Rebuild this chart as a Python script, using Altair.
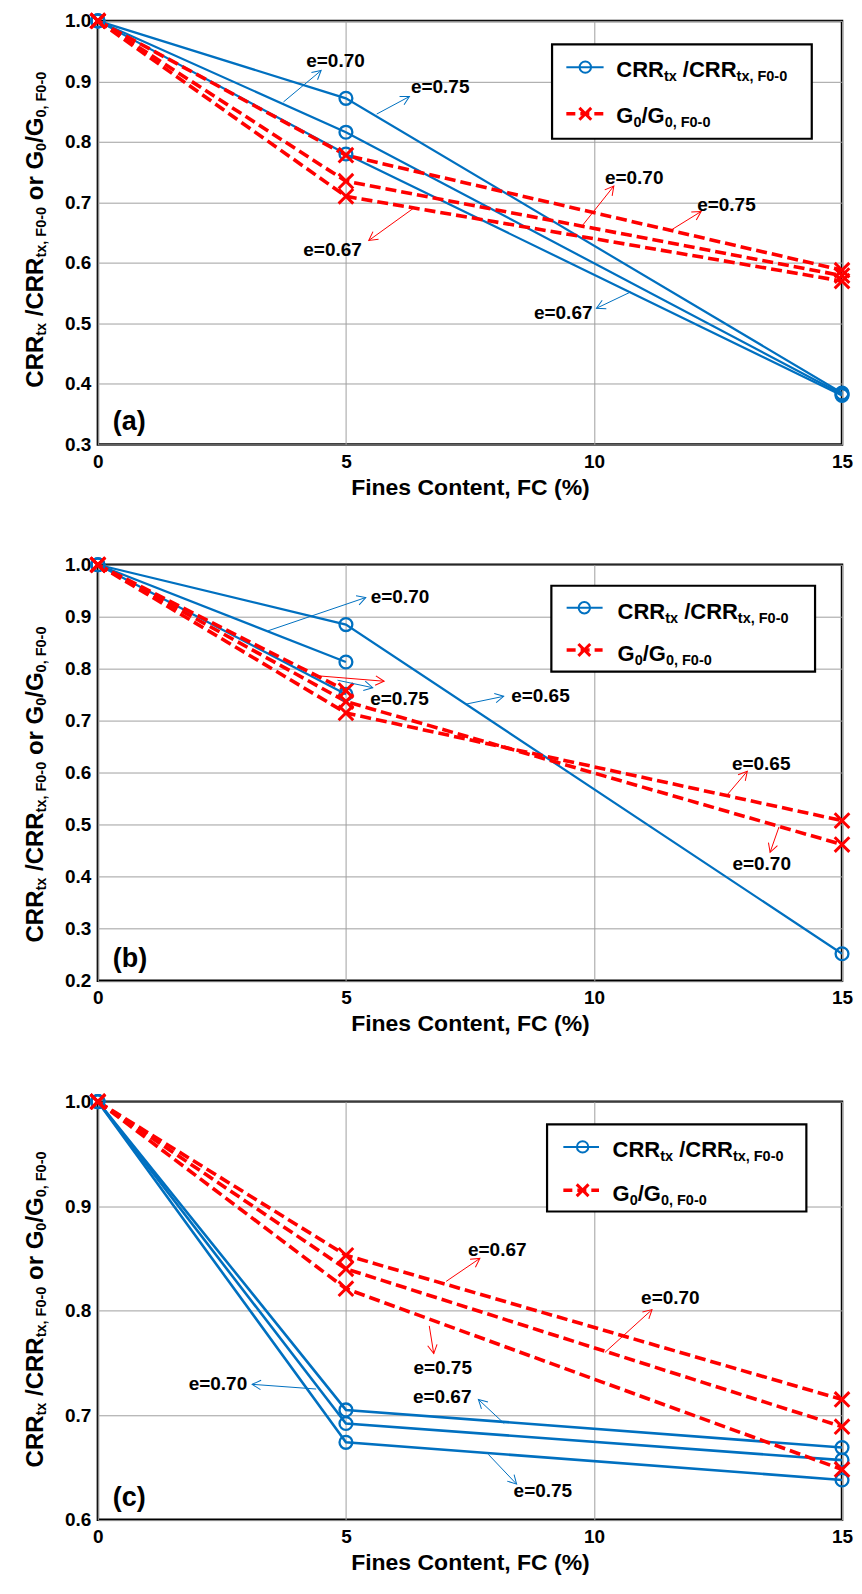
import math
import altair as alt
import pandas as pd

# ---------------- data ----------------
FC = [0, 5, 15]

# Panel (a)
a_crr_e = ["0.75", "0.70", "0.67"]
a_crr = [[1.0, 0.872, 0.385], [1.0, 0.816, 0.383], [1.0, 0.780, 0.381]]
a_g0_e = ["0.75", "0.70", "0.67"]
a_g0 = [[1.0, 0.778, 0.588], [1.0, 0.735, 0.579], [1.0, 0.710, 0.570]]
a_yticks = [0.3, 0.4, 0.5, 0.6, 0.7, 0.8, 0.9, 1.0]

# Panel (b)
b_crr_e = ["0.65", "0.70", "0.75"]
b_crr = [[1.0, 0.885, 0.252], [1.0, 0.813], [1.0, 0.751]]
b_g0_e = ["0.65", "0.70", "0.75"]
b_g0 = [[1.0, 0.715, 0.508], [1.0, 0.737, 0.462], [1.0, 0.758]]
b_yticks = [0.2, 0.3, 0.4, 0.5, 0.6, 0.7, 0.8, 0.9, 1.0]

# Panel (c)
c_crr_e = ["0.67", "0.70", "0.75"]
c_crr = [[1.0, 0.705, 0.669], [1.0, 0.692, 0.657], [1.0, 0.674, 0.638]]
c_g0_e = ["0.67", "0.70", "0.75"]
c_g0 = [[1.0, 0.853, 0.715], [1.0, 0.840, 0.689], [1.0, 0.821, 0.648]]
c_yticks = [0.6, 0.7, 0.8, 0.9, 1.0]

# annotation arrows (data units): start -> tip
a_arr_x1 = [3.74, 5.62, 10.74, 6.39, 9.75, 11.51]
a_arr_y1 = [0.866, 0.846, 0.552, 0.692, 0.660, 0.652]
a_arr_x2 = [4.50, 6.28, 10.05, 5.46, 10.40, 12.16]
a_arr_y2 = [0.918, 0.875, 0.525, 0.637, 0.727, 0.685]
a_arr_kind = ["CRR", "CRR", "CRR", "G0", "G0", "G0"]
a_lab_text = ["e=0.70", "e=0.75", "e=0.67", "e=0.67", "e=0.70", "e=0.75"]
a_lab_x = [4.20, 6.31, 9.97, 4.14, 10.22, 12.08]
a_lab_y = [0.934, 0.891, 0.517, 0.621, 0.740, 0.695]
a_lab_align = ["left", "left", "right", "left", "left", "left"]

b_arr_x1 = [3.43, 4.30, 4.83, 7.42, 12.68, 13.73]
b_arr_y1 = [0.873, 0.7875, 0.778, 0.732, 0.557, 0.496]
b_arr_x2 = [5.40, 5.77, 5.54, 8.18, 13.09, 13.55]
b_arr_y2 = [0.937, 0.776, 0.7636, 0.747, 0.603, 0.447]
b_arr_kind = ["CRR", "G0", "CRR", "CRR", "G0", "G0"]
b_lab_text = ["e=0.70", "e=0.75", "e=0.65", "e=0.65", "e=0.70"]
b_lab_x = [5.50, 5.49, 8.33, 12.78, 12.79]
b_lab_y = [0.938, 0.741, 0.747, 0.616, 0.425]
b_lab_align = ["left", "left", "left", "left", "left"]

c_arr_x1 = [4.40, 8.19, 7.87, 7.02, 10.22, 6.68]
c_arr_y1 = [0.725, 0.692, 0.6625, 0.828, 0.760, 0.7854]
c_arr_x2 = [3.11, 7.67, 8.44, 7.70, 11.17, 6.77]
c_arr_y2 = [0.7295, 0.715, 0.634, 0.850, 0.801, 0.7589]
c_arr_kind = ["CRR", "CRR", "CRR", "G0", "G0", "G0"]
c_lab_text = ["e=0.70", "e=0.67", "e=0.75", "e=0.67", "e=0.70", "e=0.75"]
c_lab_x = [3.01, 7.53, 8.38, 7.46, 10.95, 6.36]
c_lab_y = [0.7295, 0.717, 0.6275, 0.858, 0.8124, 0.7455]
c_lab_align = ["right", "right", "left", "left", "left", "left"]

# ---------------- styling ----------------
BLUE = "#0070C0"
RED = "#FF0000"
FONT = "Liberation Sans"
W_PANEL = 745
XPATH = "M-1,-1L1,1M-1,1L1,-1"
CHEV = "M-1,-0.55L0,0L-1,0.55"

CW = {" ": 278, "/": 278, ",": 278, "-": 333, "C": 722, "R": 722, "t": 333,
      "x": 556, "F": 611, "0": 556, "o": 611, "r": 389, "G": 778}


def tw(s, fs):
    return sum(CW[c] for c in s) * fs / 1000.0


def title_rows(center_y, base_x):
    big, sub = 24, 14.5
    segs = [("CRR", False, 0), ("tx", True, 0), ("/CRR", False, 1),
            ("tx, F0-0", True, 0), ("or G", False, 1), ("0", True, 0),
            ("/G", False, 0), ("0, F0-0", True, 0)]
    total = 0
    for t, s, pre in segs:
        total += pre * tw(" ", big) + tw(t, sub if s else big)
    y = center_y + total / 2
    rows = []
    for t, s, pre in segs:
        fs = sub if s else big
        y -= pre * tw(" ", big)
        rows.append(dict(px=base_x + (3.5 if s else 0), py=y, t=t, fs=fs))
        y -= tw(t, fs)
    return rows


def legend_rows(left, base1, base2):
    big, sub = 22, 14.5
    rows = []
    for segs, base in (
        ([("CRR", False, 0), ("tx", True, 0), ("/CRR", False, 1), ("tx, F0-0", True, 0)], base1),
        ([("G", False, 0), ("0", True, 0), ("/G", False, 0), ("0, F0-0", True, 0)], base2),
    ):
        x = left
        for t, s, pre in segs:
            fs = sub if s else big
            x += pre * tw(" ", big)
            rows.append(dict(px=x, py=base + (4 if s else 0), t=t, fs=fs))
            x += tw(t, fs)
    return rows


def make_panel(letter, crr_e, crr_vals, g0_e, g0_vals, ymin, yticks, H,
               arr, labs, leg, title_cy, crr_w):
    W = W_PANEL
    xs = alt.Scale(domain=[0, 15], nice=False, zero=False)
    ys = alt.Scale(domain=[ymin, 1.0], nice=False, zero=False)
    x_axis = alt.Axis(values=[0, 5, 10, 15], title="Fines Content, FC (%)",
                      grid=True, labelFlush=False, labelOverlap=False)
    y_axis = alt.Axis(values=yticks, format=".1f", title=None, grid=True,
                      labelOverlap=False, labelFlush=False)

    # pixel (relative to the plot area) -> data units, so everything shares the scales
    def dx(px):
        return px / W * 15.0

    def dy(py):
        return 1.0 - py / H * (1.0 - ymin)

    def X(f):
        return alt.X(f + ":Q", scale=xs, axis=x_axis)

    def Y(f):
        return alt.Y(f + ":Q", scale=ys, axis=y_axis)

    rows = []
    for e, vals in zip(crr_e, crr_vals):
        for x, v in zip(FC, vals):
            rows.append(dict(FC=x, val=v, series="CRR e=" + e, kind="CRR"))
    for e, vals in zip(g0_e, g0_vals):
        for x, v in zip(FC, vals):
            rows.append(dict(FC=x, val=v, series="G0 e=" + e, kind="G0"))
    df = pd.DataFrame(rows)

    base = alt.Chart(df)
    blue_lines = base.transform_filter(alt.datum.kind == "CRR").mark_line(
        color=BLUE, strokeWidth=crr_w).encode(x=X("FC"), y=Y("val"), detail="series:N", order="FC:Q")
    red_lines = base.transform_filter(alt.datum.kind == "G0").mark_line(
        color=RED, strokeWidth=3.6, strokeDash=[11, 5]).encode(
        x=X("FC"), y=Y("val"), detail="series:N", order="FC:Q")
    blue_pts = base.transform_filter(alt.datum.kind == "CRR").mark_point(
        shape="circle", filled=False, color=BLUE, size=165, strokeWidth=2.3, opacity=1).encode(
        x=X("FC"), y=Y("val"))
    red_pts = base.transform_filter(alt.datum.kind == "G0").mark_point(
        shape=XPATH, filled=False, color=RED, size=215, strokeWidth=3, opacity=1).encode(
        x=X("FC"), y=Y("val"))

    # annotation arrows
    x1, y1, x2, y2, kind = arr
    arows = []
    for i in range(len(x1)):
        ddx = (x2[i] - x1[i]) * W / 15.0
        ddy = -(y2[i] - y1[i]) * H / (1.0 - ymin)
        ang = math.degrees(math.atan2(ddy, ddx)) % 360
        arows.append(dict(x1=x1[i], y1=y1[i], x2=x2[i], y2=y2[i],
                          col=BLUE if kind[i] == "CRR" else RED, ang=ang))
    adf = pd.DataFrame(arows)
    arr_lines = alt.Chart(adf).mark_rule(strokeWidth=1).encode(
        x=X("x1"), y=Y("y1"), x2="x2:Q", y2="y2:Q", color=alt.Color("col:N", scale=None))
    arr_heads = alt.Chart(adf).mark_point(shape=CHEV, filled=False, size=300,
                                          strokeWidth=1, opacity=1).encode(
        x=X("x2"), y=Y("y2"),
        angle=alt.Angle("ang:Q", scale=None), color=alt.Color("col:N", scale=None))

    lt, lx, ly, la = labs
    ldf = pd.DataFrame(dict(t=lt, lx=lx, ly=ly, al=la))
    label_layers = []
    for al in ("left", "right"):
        sub = ldf[ldf.al == al]
        if len(sub):
            label_layers.append(alt.Chart(sub).mark_text(
                align=al, baseline="middle", font=FONT, fontWeight="bold",
                fontSize=19, color="black").encode(x=X("lx"), y=Y("ly"), text="t:N"))

    # legend (drawn by hand for subscripts)
    bx1, bx2, by1, by2, sx1, sx2, mx, r1y, r1b, r2y, r2b, tl = leg
    box = alt.Chart(pd.DataFrame(dict(a=[dx(bx1)], b=[dx(bx2)], c=[dy(by1)], d=[dy(by2)]))).mark_rect(
        fill="white", stroke="black", strokeWidth=2.2).encode(
        x=X("a"), x2="b:Q", y=Y("c"), y2="d:Q")
    sdf = pd.DataFrame(dict(a=[dx(sx1)], b=[dx(sx2)], r1=[dy(r1y)], r2=[dy(r2y)], m=[dx(mx)]))
    s_blue = alt.Chart(sdf).mark_rule(color=BLUE, strokeWidth=2).encode(
        x=X("a"), x2="b:Q", y=Y("r1"))
    s_red = alt.Chart(sdf).mark_rule(color=RED, strokeWidth=3.5, strokeDash=[9, 5]).encode(
        x=X("a"), x2="b:Q", y=Y("r2"))
    s_circ = alt.Chart(sdf).mark_point(shape="circle", filled=False, color=BLUE, size=130,
                                       strokeWidth=2, opacity=1).encode(x=X("m"), y=Y("r1"))
    s_x = alt.Chart(sdf).mark_point(shape=XPATH, filled=False, color=RED, size=140,
                                    strokeWidth=3, opacity=1).encode(x=X("m"), y=Y("r2"))
    lrows = legend_rows(tl, r1b, r2b)
    for r in lrows:
        r["dx"], r["dy"] = dx(r["px"]), dy(r["py"])
    leg_txt = alt.Chart(pd.DataFrame(lrows)).mark_text(
        align="left", baseline="alphabetic", font=FONT, fontWeight="bold", color="black").encode(
        x=X("dx"), y=Y("dy"), text="t:N", size=alt.Size("fs:Q", scale=None))

    # y-axis title with subscripts
    trows = title_rows(title_cy, -55)
    for r in trows:
        r["dx"], r["dy"] = dx(r["px"]), dy(r["py"])
    ytitle = alt.Chart(pd.DataFrame(trows)).mark_text(
        angle=270, align="left", baseline="alphabetic", font=FONT, fontWeight="bold",
        color="black").encode(x=X("dx"), y=Y("dy"), text="t:N", size=alt.Size("fs:Q", scale=None))

    letter_txt = alt.Chart(pd.DataFrame(dict(t=[letter], lx=[dx(15)], ly=[dy(H - 14)]))).mark_text(
        align="left", baseline="alphabetic", font=FONT, fontWeight="bold", fontSize=27,
        color="black").encode(x=X("lx"), y=Y("ly"), text="t:N")

    layers = [blue_lines, red_lines, blue_pts, red_pts, arr_lines, arr_heads] + label_layers + \
             [box, s_blue, s_red, s_circ, s_x, leg_txt, ytitle, letter_txt]
    return alt.layer(*layers).properties(width=W, height=H)


pa = make_panel("(a)", a_crr_e, a_crr, a_g0_e, a_g0, 0.3, a_yticks, 424,
                (a_arr_x1, a_arr_y1, a_arr_x2, a_arr_y2, a_arr_kind),
                (a_lab_text, a_lab_x, a_lab_y, a_lab_align),
                (454.7, 714.7, 23.5, 118, 469, 506.3, 488, 46.3, 55.7, 93, 102.3, 519),
                209, 2.2)
pb = make_panel("(b)", b_crr_e, b_crr, b_g0_e, b_g0, 0.2, b_yticks, 416.5,
                (b_arr_x1, b_arr_y1, b_arr_x2, b_arr_y2, b_arr_kind),
                (b_lab_text, b_lab_x, b_lab_y, b_lab_align),
                (454, 718, 21, 107, 469.3, 505.3, 487, 43, 54.3, 85.3, 96, 520.3),
                220, 2.2)
pc = make_panel("(c)", c_crr_e, c_crr, c_g0_e, c_g0, 0.6, c_yticks, 418.5,
                (c_arr_x1, c_arr_y1, c_arr_x2, c_arr_y2, c_arr_kind),
                (c_lab_text, c_lab_x, c_lab_y, c_lab_align),
                (449.7, 709.3, 22.7, 110, 466, 501.7, 485.3, 45.3, 55.3, 88.7, 99.3, 515.3),
                208, 2.6)

chart = alt.vconcat(pa, pb, pc, spacing=120.5, bounds="flush").properties(
    padding={"left": 22, "top": 5, "right": 5, "bottom": 5},
    background="white",
).configure_axis(
    labelFont=FONT, labelFontSize=19, labelFontWeight="bold", labelColor="black",
    titleFont=FONT, titleFontSize=23, titleFontWeight="bold", titleColor="black",
    gridColor="#A0A0A0", gridWidth=1, domain=False, ticks=False,
).configure_axisX(labelPadding=8, titlePadding=5).configure_axisY(labelPadding=7).configure_view(
    stroke="black", strokeWidth=2.5)

chart.save("out.html", embed_options={"renderer": "svg", "actions": False})
